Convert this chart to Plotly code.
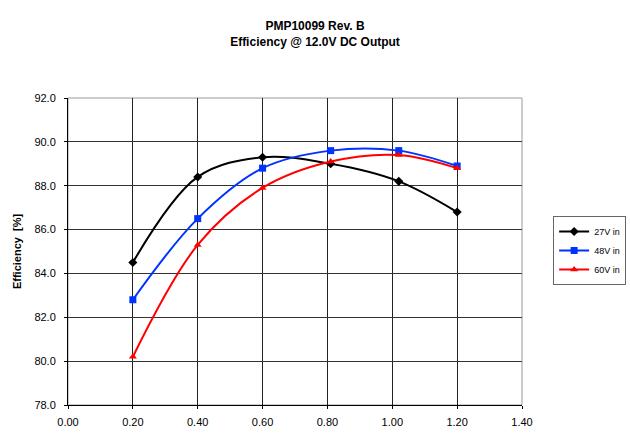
import plotly.graph_objects as go

# Data
load_a = [0.20, 0.40, 0.60, 0.81, 1.02, 1.20]
eff_27v = [84.5, 88.4, 89.3, 89.0, 88.2, 86.8]
eff_48v = [82.8, 86.5, 88.8, 89.6, 89.6, 88.9]
eff_60v = [80.2, 85.3, 87.9, 89.1, 89.4, 88.8]
series_names = ["27V in", "48V in", "60V in"]
x_ticks = [0.0, 0.2, 0.4, 0.6, 0.8, 1.0, 1.2, 1.4]
y_ticks = [78, 80, 82, 84, 86, 88, 90, 92]

colors = ["#000000", "#0033ff", "#ff0000"]
symbols = ["diamond", "square", "triangle-up"]

fig = go.Figure()
for name, vals, c, s in zip(series_names, [eff_27v, eff_48v, eff_60v], colors, symbols):
    fig.add_trace(go.Scatter(
        x=load_a, y=vals, name=name, mode="lines+markers",
        line=dict(color=c, width=2, shape="spline", smoothing=1.0),
        marker=dict(color=c, symbol=s, size=7),
    ))

fig.update_layout(
    width=630, height=440,
    margin=dict(l=68, r=108, t=98, b=35, autoexpand=False),
    paper_bgcolor="white", plot_bgcolor="white",
    font=dict(family="Liberation Sans, Arial", size=10, color="black"),
    title=dict(
        text="<b>PMP10099 Rev. B<br>Efficiency @ 12.0V DC Output</b>",
        x=0.5, xanchor="center", y=0.932, yanchor="top",
        font=dict(size=12, family="Liberation Sans, Arial"),
    ),
    showlegend=True,
    legend=dict(
        xref="container", yref="container",
        x=0.878, y=0.509, xanchor="left", yanchor="top",
        bordercolor="#666666", borderwidth=1, bgcolor="white",
        font=dict(size=9), itemwidth=30, tracegroupgap=5,
    ),
    shapes=[dict(type="rect", xref="paper", yref="paper", x0=0, y0=0, x1=1, y1=1,
                 line=dict(color="#999999", width=1), layer="below")],
)
fig.update_xaxes(
    range=[0, 1.4], tickvals=x_ticks, ticktext=[f"{v:.2f}" for v in x_ticks],
    showgrid=True, gridcolor="#222222", gridwidth=1,
    showline=True, linecolor="black", linewidth=1,
    ticks="outside", ticklen=3, tickcolor="black", ticklabelstandoff=4,
    zeroline=False, tickfont=dict(size=11),
)
fig.update_yaxes(
    range=[78, 92], tickvals=y_ticks, ticktext=[f"{v:.1f}" for v in y_ticks],
    showgrid=True, gridcolor="#333333", gridwidth=1,
    showline=True, linecolor="black", linewidth=1,
    ticks="outside", ticklen=3, tickcolor="black", ticklabelstandoff=6,
    zeroline=False, tickfont=dict(size=11),
    title=dict(text="<b>Efficiency  [%]</b>", font=dict(size=11), standoff=10),
)

fig.write_html("out.html")
